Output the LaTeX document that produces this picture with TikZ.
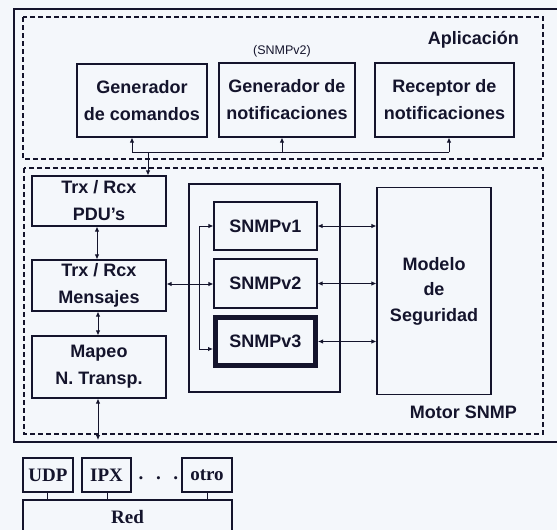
\documentclass[tikz,border=0pt]{standalone}
\usepackage{fontspec}
\setmainfont{Liberation Sans}
\newfontfamily\serifb{Liberation Serif}
\usetikzlibrary{arrows.meta,calc}
\definecolor{ink}{RGB}{20,20,44}
\definecolor{paper}{RGB}{244,247,251}
\tikzset{
  box/.style={draw=ink,line width=1.1pt,fill=paper,align=center,inner sep=0pt,
    font=\fontsize{18}{27}\selectfont\bfseries,text=ink},
  sbox/.style={draw=ink,line width=1.1pt,fill=paper,align=center,inner sep=0pt,
    font=\serifb\fontsize{19}{22}\selectfont\bfseries,text=ink},
  lbl/.style={inner sep=0pt,font=\fontsize{18}{27}\selectfont\bfseries,text=ink},
  dbox/.style={draw=ink,line width=1.1pt,dash pattern=on 5pt off 3pt},
  conn/.style={draw=ink,line width=0.9pt},
  tip/.style={conn,-{Latex[length=5pt,width=4.5pt]}},
  dtip/.style={conn,{Latex[length=5pt,width=4.5pt]}-{Latex[length=5pt,width=4.5pt]}},
}
\begin{document}
\begin{tikzpicture}[x=1pt,y=-1pt]
\useasboundingbox (0,0) rectangle (557,530);
\fill[paper] (0,0) rectangle (557,530);
% outer solid frame (right side runs off the picture)
\draw[ink,line width=2.3pt] (557,9) -- (14,9) -- (14,442) -- (557,442);
% dashed regions
\draw[dbox] (23,17) rectangle (543,159);
\draw[dbox] (24,168) rectangle (543,434);
\node[lbl,anchor=east] (apl) at (519,40) {Aplicación};
\node[inner sep=0pt,font=\fontsize{12.5}{14}\selectfont,text=ink] (sv2) at (282,51) {(SNMPv2)};
\node[lbl,anchor=east] (mot) at (517,412) {Motor SNMP};
% application boxes
\node[box,minimum width=130pt,minimum height=73pt] (gc) at (142,100.5) {Generador\\de comandos};
\node[box,minimum width=136pt,minimum height=74pt] (gn) at (287,100) {Generador de\\notificaciones};
\node[box,minimum width=139pt,minimum height=74pt] (rn) at (444.5,100) {Receptor de\\notificaciones};
% engine boxes
\node[box,minimum width=134pt,minimum height=50pt] (pdu) at (99,201) {Trx / Rcx\\PDU's};
\node[box,minimum width=134pt,minimum height=51pt] (men) at (99,285.5) {Trx / Rcx\\Mensajes};
\node[box,minimum width=134pt,minimum height=62pt] (map) at (99,367) {Mapeo\\N. Transp.};
\node[box,minimum width=151pt,minimum height=208pt] (cont) at (264.5,288) {};
\node[box,minimum width=103pt,minimum height=48pt] (v1) at (265.5,226) {SNMPv1};
\node[box,minimum width=103pt,minimum height=49pt] (v2) at (265.5,283.5) {SNMPv2};
\node[box,line width=5pt,minimum width=100pt,minimum height=48pt] (v3) at (265.5,341.5) {SNMPv3};
\node[box,minimum width=114pt,minimum height=207pt,
  font=\fontsize{18}{25.5}\selectfont\bfseries] (mod) at (434,291) {Modelo\\de\\Seguridad};
% bus between application and engine
\coordinate (b1) at (132,152);
\coordinate (b2) at (282,152);
\coordinate (b3) at (449,152);
\coordinate (bd) at (148,152);
\draw[conn] (b1) -- (b3);
\draw[tip] (b1) -- (b1 |- gc.south);
\draw[tip] (b2) -- (b2 |- gn.south);
\draw[tip] (b3) -- (b3 |- rn.south);
\draw[tip] (bd) -- (bd |- pdu.north);
% left column
\draw[dtip] (pdu.south -| 97,0) -- (men.north -| 97,0);
\draw[dtip] (men.south -| 98,0) -- (map.north -| 98,0);
\coordinate (gnd) at (98,440);
\draw[dtip] (map.south -| gnd) -- (gnd);
% messages to versions
\coordinate (br) at (199,284);
\coordinate (v3in) at (v3.west |- 0,349);
\draw[dtip] (men.east |- br) -- (v2.west |- br);
\draw[tip] (br) |- (v1.west);
\draw[tip] (br) |- (v3in);
% versions to security model
\draw[dtip] (v1.east) -- (v1.east -| mod.west);
\draw[dtip] (v2.east) -- (v2.east -| mod.west);
\draw[dtip] (v3.east) -- (v3.east -| mod.west);
% transport layer
\node[sbox,minimum width=50pt,minimum height=34pt] (udp) at (48,475) {UDP};
\node[sbox,minimum width=49pt,minimum height=34pt] (ipx) at (106.5,475) {IPX};
\node[sbox,minimum width=50pt,minimum height=34pt] (otro) at (207,475) {otro};
\node[inner sep=0pt,font=\serifb\fontsize{19}{22}\selectfont\bfseries,text=ink] (dots) at (158.5,481) {·\hspace{11pt}·\hspace{11pt}·};
\draw[ink,line width=1.1pt,fill=paper] (23,531) -- (23,500) -- (232,500) -- (232,531);
\node[inner sep=0pt,font=\serifb\fontsize{19}{22}\selectfont\bfseries,text=ink] (red) at (127.5,517) {Red};
\coordinate (r1) at (47,500);
\coordinate (r2) at (107,500);
\coordinate (r3) at (207,500);
\draw[conn] (udp.south -| r1) -- (r1);
\draw[conn] (ipx.south -| r2) -- (r2);
\draw[conn] (otro.south -| r3) -- (r3);
\end{tikzpicture}
\end{document}
